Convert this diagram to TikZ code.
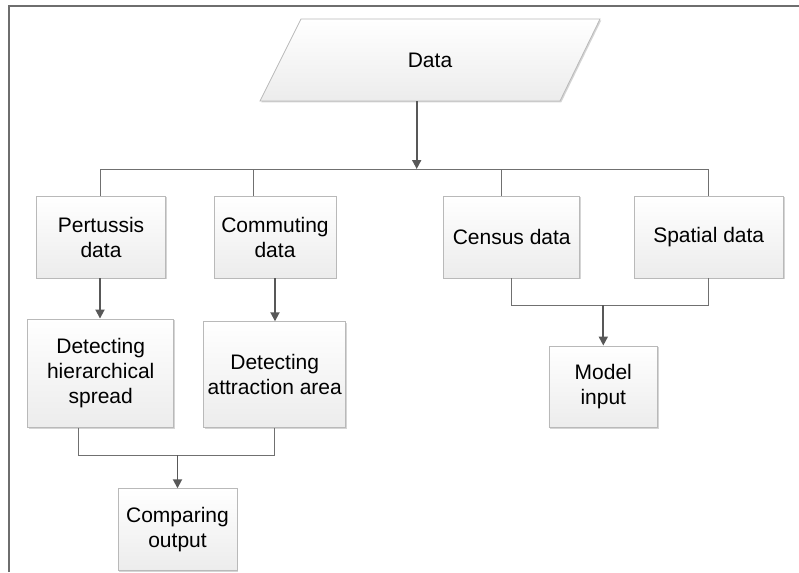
\documentclass[tikz,border=0pt]{standalone}
\usepackage{fontspec}
\setmainfont{Liberation Sans}
\usetikzlibrary{arrows.meta,shadows}
\definecolor{boxline}{RGB}{185,185,185}
\definecolor{boxbot}{RGB}{236,236,236}
\definecolor{wirecol}{RGB}{112,112,112}
\definecolor{feedcol}{RGB}{88,88,88}
\definecolor{framecol}{RGB}{110,110,110}
\begin{document}
\begin{tikzpicture}[x=1pt,y=-1pt,
  softshadow/.style={drop shadow={shadow xshift=1.3pt,shadow yshift=-1.3pt,fill=black!30,opacity=0.55}},
  box/.style={draw=boxline,line width=0.8pt,top color=white,bottom color=boxbot,
    align=center,inner sep=0pt,font=\fontsize{21}{25}\selectfont,softshadow},
  wire/.style={draw=wirecol,line width=1pt},
  feed/.style={draw=feedcol,line width=1.8pt,-{Triangle[length=9pt,width=9pt]}}]
\useasboundingbox (0,0) rectangle (799,572);

% outer frame (top and left edges)
\draw[framecol,line width=1.6pt] (9,572) -- (9,6) -- (799,6);

% input parallelogram
\path[draw=boxline,line width=0.8pt,top color=white,bottom color=boxbot,softshadow]
  (301,19) -- (600,19) -- (560,101) -- (260,101) -- cycle;
\node[minimum height=82pt,inner sep=0pt,font=\fontsize{21}{25}\selectfont] (data) at (430,60) {Data};

% first row
\node[box,minimum width=129pt,minimum height=82pt] (pert) at (101,237) {Pertussis\\data};
\node[box,minimum width=122pt,minimum height=82pt] (comm) at (275,237) {Commuting\\data};
\node[box,minimum width=136pt,minimum height=82pt] (cens) at (511.7,237) {Census data};
\node[box,minimum width=149pt,minimum height=82pt] (spat) at (708.7,237) {Spatial data};

% second row
\node[box,minimum width=146pt,minimum height=108.7pt] (hier) at (100.7,373.3) {Detecting\\hierarchical\\spread};
\node[box,minimum width=142pt,minimum height=106pt] (attr) at (274.7,374.7) {Detecting\\attraction area};
\node[box,minimum width=108.7pt,minimum height=81.7pt] (model) at (603.3,386.8) {Model\\input};

% third row
\node[box,minimum width=119pt,minimum height=82pt] (comp) at (177.5,529.7) {Comparing\\output};

% junction points
\coordinate (hub) at (416.7,169);
\coordinate (jl) at (177,455);
\coordinate (jr) at (603.3,305);

% distribution from the data source
\draw[feed] (data.south -| hub) -- (hub);
\draw[wire] ([xshift=-1pt]pert.north) |- (spat.north |- hub) -- (spat.north);
\draw[wire] ([xshift=-22pt]comm.north) -- ([xshift=-22pt]comm.north |- hub);
\draw[wire] ([xshift=-10pt]cens.north) -- ([xshift=-10pt]cens.north |- hub);

% processing steps
\draw[feed] ([xshift=-1pt]pert.south) -- ([xshift=-1pt]pert.south |- hier.north);
\draw[feed] (comm.south) -- (comm.south |- attr.north);

% merge into comparison
\draw[wire] ([xshift=-22.4pt]hier.south) |- (attr.south |- jl) -- (attr.south);
\draw[feed] (comp.north |- jl) -- (comp.north);

% merge into model input
\draw[wire] (cens.south) |- (spat.south |- jr) -- (spat.south);
\draw[feed] (model.north |- jr) -- (model.north);
\end{tikzpicture}
\end{document}
